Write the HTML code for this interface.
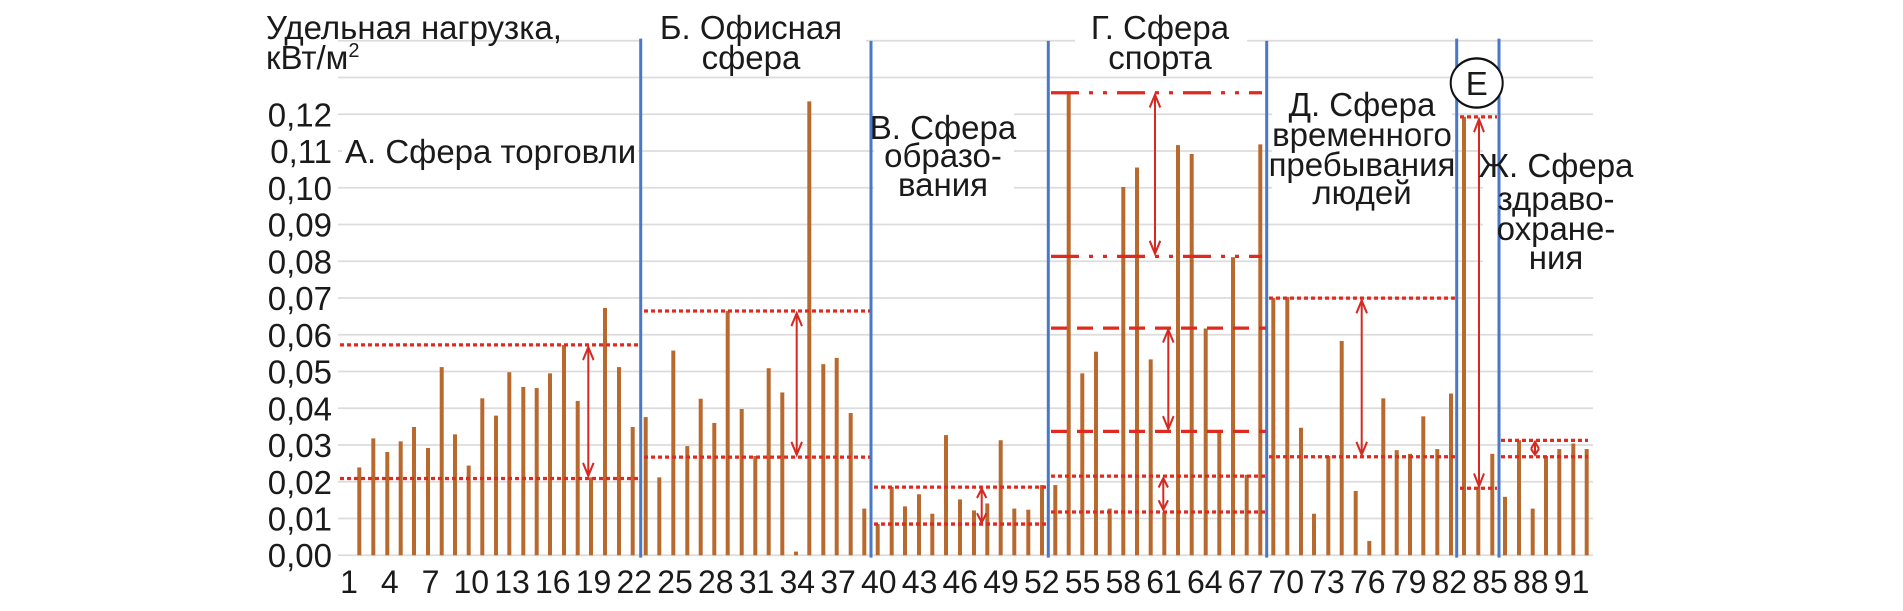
<!DOCTYPE html>
<html><head><meta charset="utf-8"><style>
html,body{margin:0;padding:0;background:#fff;width:1903px;height:611px;overflow:hidden}
svg{display:block}
text{font-family:"Liberation Sans",sans-serif;fill:#1a1a1a}
</style></head><body>
<svg width="1903" height="611" viewBox="0 0 1903 611" xmlns="http://www.w3.org/2000/svg">
<g transform="scale(1,1.169)">
<g stroke="#dcdcdc" stroke-width="1.5">
<line x1="338" x2="1593" y1="475" y2="475"/><line x1="338" x2="1593" y1="443.56" y2="443.56"/><line x1="338" x2="1593" y1="412.12" y2="412.12"/><line x1="338" x2="1593" y1="380.68" y2="380.68"/><line x1="338" x2="1593" y1="349.24" y2="349.24"/><line x1="338" x2="1593" y1="317.8" y2="317.8"/><line x1="338" x2="1593" y1="286.36" y2="286.36"/><line x1="338" x2="1593" y1="254.92" y2="254.92"/><line x1="338" x2="1593" y1="223.48" y2="223.48"/><line x1="338" x2="1593" y1="192.04" y2="192.04"/><line x1="338" x2="1593" y1="160.6" y2="160.6"/><line x1="338" x2="1593" y1="129.16" y2="129.16"/><line x1="338" x2="1593" y1="97.72" y2="97.72"/><line x1="338" x2="1593" y1="66.28" y2="66.28"/><line x1="338" x2="1593" y1="34.84" y2="34.84"/>
</g>
<g fill="#fff">
<rect x="640" y="4" width="226" height="56"/>
<rect x="1075" y="4" width="172" height="56"/>
<rect x="874" y="86" width="140" height="84"/>
<rect x="1272" y="70" width="180" height="108"/>
<rect x="1483" y="118" width="140" height="114"/>
<rect x="342" y="110" width="296" height="34"/>
</g>
<g transform="translate(-2,475) scale(1,-3144)" fill="#b8692e">
<rect x="359.3" y="0" width="4" height=".0239"/><rect x="373.3" y="0" width="4" height=".0318"/><rect x="387.3" y="0" width="4" height=".0281"/><rect x="400.7" y="0" width="4" height=".031"/><rect x="414" y="0" width="4" height=".0349"/><rect x="428" y="0" width="4" height=".0292"/><rect x="441.7" y="0" width="4" height=".0512"/><rect x="455" y="0" width="4" height=".0329"/><rect x="468.7" y="0" width="4" height=".0244"/><rect x="482.3" y="0" width="4" height=".0427"/><rect x="496" y="0" width="4" height=".038"/><rect x="509.3" y="0" width="4" height=".0498"/><rect x="523.3" y="0" width="4" height=".0458"/><rect x="536.7" y="0" width="4" height=".0455"/><rect x="550" y="0" width="4" height=".0495"/><rect x="564" y="0" width="4" height=".0572"/><rect x="577.7" y="0" width="4" height=".042"/><rect x="591" y="0" width="4" height=".0212"/><rect x="605" y="0" width="4" height=".0673"/><rect x="619" y="0" width="4" height=".0512"/><rect x="632.7" y="0" width="4" height=".0349"/>
<rect x="645.7" y="0" width="4" height=".0376"/><rect x="659.3" y="0" width="4" height=".0212"/><rect x="673.3" y="0" width="4" height=".0557"/><rect x="687.3" y="0" width="4" height=".0297"/><rect x="700.7" y="0" width="4" height=".0426"/><rect x="714.3" y="0" width="4" height=".036"/><rect x="727.7" y="0" width="4" height=".0665"/><rect x="741.7" y="0" width="4" height=".0398"/><rect x="755.3" y="0" width="4" height=".027"/><rect x="768.7" y="0" width="4" height=".0509"/><rect x="782.3" y="0" width="4" height=".0443"/><rect x="796" y="0" width="4" height=".001"/><rect x="809.3" y="0" width="4" height=".1235"/><rect x="823.3" y="0" width="4" height=".052"/><rect x="836.7" y="0" width="4" height=".0537"/><rect x="850.7" y="0" width="4" height=".0387"/><rect x="864.3" y="0" width="4" height=".0127"/>
<rect x="877.7" y="0" width="4" height=".0085"/><rect x="891.7" y="0" width="4" height=".0186"/><rect x="905" y="0" width="4" height=".0133"/><rect x="919" y="0" width="4" height=".0166"/><rect x="932.3" y="0" width="4" height=".0113"/><rect x="946" y="0" width="4" height=".0327"/><rect x="960" y="0" width="4" height=".0152"/><rect x="974" y="0" width="4" height=".0122"/><rect x="987.3" y="0" width="4" height=".0141"/><rect x="1000.7" y="0" width="4" height=".0313"/><rect x="1014.3" y="0" width="4" height=".0127"/><rect x="1028.3" y="0" width="4" height=".0124"/><rect x="1042" y="0" width="4" height=".0191"/>
<rect x="1055.3" y="0" width="4" height=".0191"/><rect x="1068.7" y="0" width="4" height=".1256"/><rect x="1082.3" y="0" width="4" height=".0495"/><rect x="1096" y="0" width="4" height=".0554"/><rect x="1109.7" y="0" width="4" height=".0127"/><rect x="1123.3" y="0" width="4" height=".1002"/><rect x="1137" y="0" width="4" height=".1055"/><rect x="1150.7" y="0" width="4" height=".0533"/><rect x="1164.3" y="0" width="4" height=".0117"/><rect x="1178" y="0" width="4" height=".1116"/><rect x="1191.7" y="0" width="4" height=".1092"/><rect x="1205.7" y="0" width="4" height=".0617"/><rect x="1219.3" y="0" width="4" height=".0337"/><rect x="1233" y="0" width="4" height=".0811"/><rect x="1246.7" y="0" width="4" height=".0219"/><rect x="1260.3" y="0" width="4" height=".1118"/>
<rect x="1273.3" y="0" width="4" height=".07"/><rect x="1287.3" y="0" width="4" height=".0703"/><rect x="1301" y="0" width="4" height=".0347"/><rect x="1314" y="0" width="4" height=".0113"/><rect x="1328.3" y="0" width="4" height=".027"/><rect x="1341.7" y="0" width="4" height=".0583"/><rect x="1355.7" y="0" width="4" height=".0175"/><rect x="1369.3" y="0" width="4" height=".0039"/><rect x="1383.3" y="0" width="4" height=".0427"/><rect x="1396.7" y="0" width="4" height=".0286"/><rect x="1410" y="0" width="4" height=".0276"/><rect x="1423.3" y="0" width="4" height=".0378"/><rect x="1437.3" y="0" width="4" height=".0289"/><rect x="1451" y="0" width="4" height=".044"/>
<rect x="1464" y="0" width="4" height=".1193"/><rect x="1478.3" y="0" width="4" height=".0186"/><rect x="1492.3" y="0" width="4" height=".0276"/>
<rect x="1505" y="0" width="4" height=".0159"/><rect x="1519" y="0" width="4" height=".0313"/><rect x="1532.7" y="0" width="4" height=".0127"/><rect x="1546" y="0" width="4" height=".027"/><rect x="1559.3" y="0" width="4" height=".0289"/><rect x="1573.3" y="0" width="4" height=".0304"/><rect x="1586.7" y="0" width="4" height=".0289"/>
</g>
<g stroke="#4a78c8" stroke-width="3">
<line x1="640.7" x2="640.7" y1="33" y2="477"/><line x1="871" x2="871" y1="35" y2="477"/><line x1="1048.3" x2="1048.3" y1="35" y2="477"/><line x1="1266.7" x2="1266.7" y1="35" y2="477"/><line x1="1456.7" x2="1456.7" y1="33" y2="477"/><line x1="1499" x2="1499" y1="33" y2="477"/>
</g>
<g stroke="#e02a20" stroke-width="2.8" fill="none">
<g stroke-dasharray="4 3">
<line x1="340" x2="638" y1="295" y2="295"/><line x1="340" x2="638" y1="409.3" y2="409.3"/>
<line x1="644" x2="870" y1="266" y2="266"/><line x1="644" x2="870" y1="391" y2="391"/>
<line x1="874" x2="1047" y1="416.7" y2="416.7"/><line x1="874" x2="1047" y1="448.3" y2="448.3"/>
<line x1="1051" x2="1266" y1="407.3" y2="407.3"/><line x1="1051" x2="1266" y1="438" y2="438"/>
<line x1="1269" x2="1455" y1="255" y2="255"/><line x1="1269" x2="1455" y1="390.7" y2="390.7"/>
<line x1="1460" x2="1497" y1="100" y2="100"/><line x1="1460" x2="1497" y1="417.7" y2="417.7"/>
<line x1="1501" x2="1588" y1="376.7" y2="376.7"/><line x1="1501" x2="1588" y1="390.7" y2="390.7"/>
</g>
<g stroke-dasharray="28 10 4 10 4 10">
<line x1="1051" x2="1262" y1="79.3" y2="79.3"/><line x1="1051" x2="1262" y1="219.3" y2="219.3"/>
</g>
<g stroke-dasharray="16 10">
<line x1="1051" x2="1266" y1="280.7" y2="280.7"/><line x1="1051" x2="1266" y1="369" y2="369"/>
</g>
</g>
<g stroke="#d42a22" stroke-width="2" fill="none">
<line x1="588.3" x2="588.3" y1="297" y2="407"/><polyline points="583,308 588.3,297 593.6,308"/><polyline points="583,396 588.3,407 593.6,396"/>
<line x1="796.7" x2="796.7" y1="268" y2="389"/><polyline points="791.4,279 796.7,268 802,279"/><polyline points="791.4,378 796.7,389 802,378"/>
<line x1="981.7" x2="981.7" y1="418" y2="447"/><polyline points="977,426 981.7,418 986.4,426"/><polyline points="977,439 981.7,447 986.4,439"/>
<line x1="1155" x2="1155" y1="81" y2="217"/><polyline points="1149.7,92 1155,81 1160.3,92"/><polyline points="1149.7,206 1155,217 1160.3,206"/>
<line x1="1168.3" x2="1168.3" y1="282" y2="367"/><polyline points="1163,293 1168.3,282 1173.6,293"/><polyline points="1163,356 1168.3,367 1173.6,356"/>
<line x1="1163.3" x2="1163.3" y1="409" y2="436"/><polyline points="1158.6,417 1163.3,409 1168,417"/><polyline points="1158.6,428 1163.3,436 1168,428"/>
<line x1="1361.7" x2="1361.7" y1="257" y2="389"/><polyline points="1356.4,268 1361.7,257 1367,268"/><polyline points="1356.4,378 1361.7,389 1367,378"/>
<line x1="1479" x2="1479" y1="102" y2="416"/><polyline points="1474,113 1479,102 1484,113"/><polyline points="1474,405 1479,416 1484,405"/>
<line x1="1535" x2="1535" y1="378" y2="389"/><polyline points="1531,384 1535,378 1539,384"/><polyline points="1531,384 1535,389 1539,384"/>
</g>
<ellipse cx="1476.7" cy="71" rx="26" ry="21" fill="#fff" stroke="#111" stroke-width="2"/>
</g>
<g font-size="33" text-anchor="end">
<text x="332" y="567">0,00</text><text x="332" y="530.5">0,01</text><text x="332" y="493.8">0,02</text><text x="332" y="457">0,03</text><text x="332" y="420.3">0,04</text><text x="332" y="383.5">0,05</text><text x="332" y="346.8">0,06</text><text x="332" y="310">0,07</text><text x="332" y="273.3">0,08</text><text x="332" y="236.5">0,09</text><text x="332" y="199.8">0,10</text><text x="332" y="163">0,11</text><text x="332" y="126.3">0,12</text>
</g>
<g font-size="32" text-anchor="middle">
<text x="349" y="593">1</text><text x="389.8" y="593">4</text><text x="430.5" y="593">7</text><text x="471.3" y="593">10</text><text x="512" y="593">13</text><text x="552.8" y="593">16</text><text x="593.5" y="593">19</text><text x="634.3" y="593">22</text><text x="675" y="593">25</text><text x="715.8" y="593">28</text><text x="756.5" y="593">31</text><text x="797.3" y="593">34</text><text x="838" y="593">37</text><text x="878.8" y="593">40</text><text x="919.6" y="593">43</text><text x="960.3" y="593">46</text><text x="1001" y="593">49</text><text x="1041.8" y="593">52</text><text x="1082.6" y="593">55</text><text x="1123.3" y="593">58</text><text x="1164" y="593">61</text><text x="1204.8" y="593">64</text><text x="1245.6" y="593">67</text><text x="1286.3" y="593">70</text><text x="1327" y="593">73</text><text x="1367.8" y="593">76</text><text x="1408.6" y="593">79</text><text x="1449.3" y="593">82</text><text x="1490" y="593">85</text><text x="1530.8" y="593">88</text><text x="1571.6" y="593">91</text>
</g>
<g font-size="33">
<text x="266" y="39">Удельная нагрузка,</text>
<text x="266" y="69">кВт/м<tspan font-size="20" dy="-12">2</tspan></text>
<text x="345" y="163">А. Сфера торговли</text>
</g>
<g font-size="33" text-anchor="middle">
<text x="751" y="39">Б. Офисная</text><text x="751" y="69">сфера</text>
<text x="943" y="139">В. Сфера</text><text x="943" y="167">образо-</text><text x="943" y="196">вания</text>
<text x="1160" y="39">Г. Сфера</text><text x="1160" y="69">спорта</text>
<text x="1362" y="116">Д. Сфера</text><text x="1362" y="146">временного</text><text x="1362" y="176">пребывания</text><text x="1362" y="204">людей</text>
<text x="1556" y="177">Ж. Сфера</text><text x="1556" y="210">здраво-</text><text x="1556" y="240">охране-</text><text x="1556" y="269">ния</text>
</g>
<text x="1476.7" y="95" font-size="33" text-anchor="middle">Е</text>
</svg>
</body></html>
